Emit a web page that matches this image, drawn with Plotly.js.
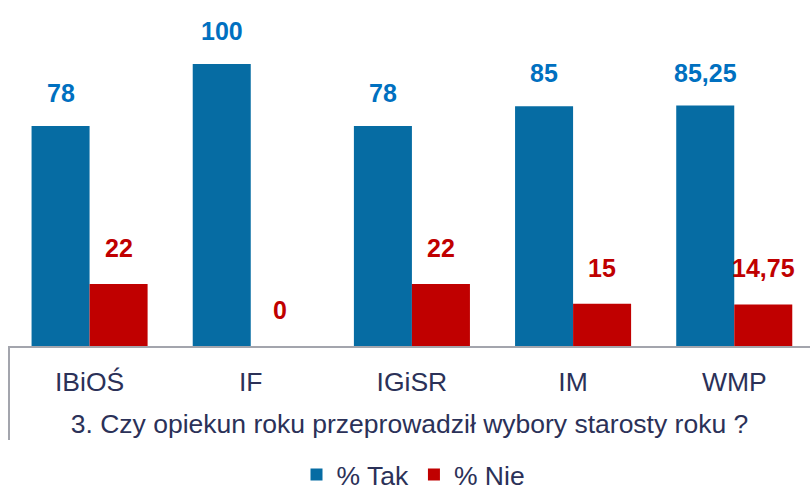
<!DOCTYPE html>
<html><head><meta charset="utf-8">
<script src="https://cdn.plot.ly/plotly-3.0.1.min.js"></script>
<style>body{margin:0;padding:0;background:#fff}#chart{width:810px;height:492px}</style>
</head><body><div id="chart"></div>
<script>
const categories = ["IBiOŚ", "IF", "IGiSR", "IM", "WMP"];
const takValues = [78, 100, 78, 85, 85.25];
const nieValues = [22, 0, 22, 15, 14.75];
const takLabels = ["78", "100", "78", "85", "85,25"];
const nieLabels = ["22", "0", "22", "15", "14,75"];
const seriesNames = ["% Tak", "% Nie"];
const xTitle = "3. Czy opiekun roku przeprowadził wybory starosty roku ?";

const FONT = "Liberation Sans, Arial, sans-serif";
const TXT = "#2b3158";
const BLUE = "#066ca3", RED = "#c00000", BLUE_LBL = "#0070c0";

const traces = [
  {type: "bar", name: seriesNames[0], x: categories, y: takValues, marker: {color: BLUE}, offsetgroup: "a", hoverinfo: "none"},
  {type: "bar", name: seriesNames[1], x: categories, y: nieValues, marker: {color: RED}, offsetgroup: "b", hoverinfo: "none"}
];

const annotations = [];
categories.forEach((c, i) => {
  annotations.push({x: c, y: takValues[i], text: "<b>" + takLabels[i] + "</b>", xshift: -29, yshift: 33,
    showarrow: false, font: {family: FONT, size: 25, color: BLUE_LBL}, xanchor: "center", yanchor: "middle"});
  annotations.push({x: c, y: nieValues[i], text: "<b>" + nieLabels[i] + "</b>", xshift: 29, yshift: 36,
    showarrow: false, font: {family: FONT, size: 25, color: RED}, xanchor: "center", yanchor: "middle"});
});

const layout = {
  width: 810, height: 492,
  margin: {l: 9, r: 0, t: 0, b: 146, autoexpand: false},
  paper_bgcolor: "#fff", plot_bgcolor: "#fff",
  barmode: "group", bargap: 0.28, bargroupgap: 0,
  font: {family: FONT, color: TXT},
  xaxis: {
    type: "category", range: [-0.5, 4.47], automargin: false,
    showline: true, linecolor: "#a3a5ad", linewidth: 2,
    ticks: "", tickfont: {size: 26.5, color: TXT, family: FONT},
    ticklabelstandoff: 11,
    title: {text: xTitle, font: {size: 26.5, color: TXT, family: FONT}, standoff: 19},
    showgrid: false, zeroline: false
  },
  yaxis: {range: [0, 122.7], visible: false, showgrid: false, zeroline: false, automargin: false},
  showlegend: true,
  legend: {orientation: "h", x: 0.505, xanchor: "center", y: -0.372, yanchor: "middle",
    font: {size: 26.5, color: TXT, family: FONT}, itemwidth: 20, traceorder: "normal",
    borderwidth: 0, bgcolor: "rgba(0,0,0,0)"},
  annotations: annotations,
  shapes: [
    {type: "line", xref: "paper", yref: "paper", x0: 0, x1: 0, y0: 0, y1: -0.272,
     line: {color: "#a3a5ad", width: 2}}
  ]
};

Plotly.newPlot("chart", traces, layout, {displayModeBar: false, staticPlot: true});
</script>
</body></html>
